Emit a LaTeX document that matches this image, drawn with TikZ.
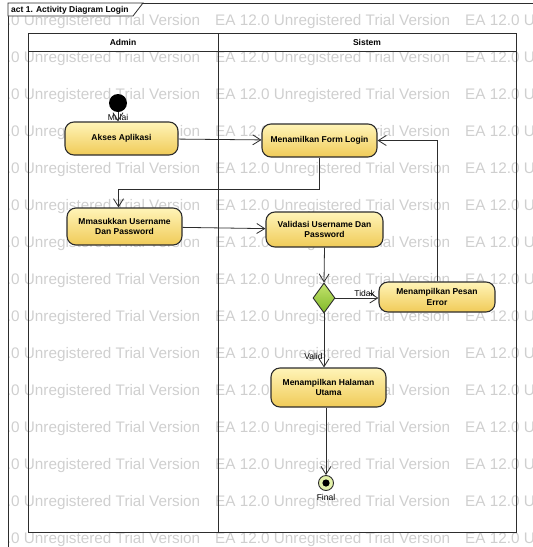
\documentclass[tikz,border=0pt]{standalone}
\usepackage{fontspec}
\setmainfont{Liberation Sans}
\usepackage{xcolor}
\usepackage{tikz}
\usetikzlibrary{arrows.meta}
\usetikzlibrary{calc}
\usetikzlibrary{shapes.geometric}
\definecolor{ealine}{RGB}{45,45,45}
\definecolor{actlight}{RGB}{255,244,184}
\definecolor{actdark}{RGB}{240,203,88}
\definecolor{declight}{RGB}{196,228,110}
\definecolor{decdark}{RGB}{128,184,40}
\definecolor{endgreen}{RGB}{228,242,170}
\colorlet{trialgray}{black!19}
\newcommand\trialtext{EA 12.0 Unregistered Trial Version}
\newcommand\eafont{\fontsize{8.5}{10.5}\selectfont}
\tikzstyle{flowhead}=[>/.tip={Straight Barb[length=8pt,width=10pt]}]
\tikzstyle{flow} =[line width=.8pt,draw=ealine,flowhead,->]
\tikzstyle{lane} =[line width=1pt,draw=ealine]
\tikzstyle{trial}=[inner sep=0pt,anchor=west,text=trialgray,font=\fontsize{15.3}{16}\selectfont]
\tikzstyle{header}=[font=\eafont\bfseries]
\tikzstyle{tag}=[inner sep=1pt,font=\eafont]
\tikzstyle{activity}=[draw=ealine,line width=1.1pt,rounded corners=9pt,top color=actlight,bottom color=actdark,align=center,inner sep=2pt,font=\eafont\bfseries]
\tikzstyle{decision}=[diamond,draw=ealine,line width=.9pt,minimum width=22pt,minimum height=30pt,inner sep=0pt,top color=declight,bottom color=decdark]
\tikzstyle{startnode}=[circle,fill=black,minimum size=18pt,inner sep=0pt]
\tikzstyle{endnode}=[circle,draw=ealine,line width=.9pt,fill=endgreen,minimum size=15pt,inner sep=0pt,path picture={\fill[black] (path picture bounding box.center) circle (3.6pt);}]
\begin{document}
\begin{tikzpicture}[x=1pt,y=-1pt]
	\useasboundingbox (0,0) rectangle (533,547);
	\begin{scope}
	  \clip (8,0) rectangle (533,547);
	  \foreach \r in {0,...,14}
	    \foreach \c [count=\k] in {-35,215,465}
	      \node[trial] (w\r-\k) at (\c,22+37*\r) {\trialtext};
	\end{scope}
	\draw[lane] (8,547) -- (8,3) -- (533,3);
	\filldraw[fill=white,draw=ealine,line width=.8pt] (8,3) -- (143,3) -- (133,16) -- (8,16) -- cycle;
	\node[header,anchor=west,inner sep=0pt] (title) at (11,10) {act 1. Activity Diagram Login};
	\draw[lane] (28,33) rectangle (516,532);
	\draw[lane] (28,51) -- (516,51);
	\draw[lane] (218,33) -- (218,532);
	\node[header] (admin) at (123,42) {Admin};
	\node[header] (sistem) at (367,42) {Sistem};
	\node[startnode] (start) at (118,103) {};
	\node[tag] (mulai) at (118,117) {Mulai};
	\node[activity,minimum width=113pt,minimum height=33pt] (akses) at (121.5,138.5) {Akses Aplikasi};
	\node[activity,minimum width=115pt,minimum height=33pt] (form) at (319.5,140.5) {Menamilkan Form Login};
	\node[activity,minimum width=115pt,minimum height=37pt] (mmasuk) at (124.5,226.5) {Mmasukkan Username\\Dan Password};
	\node[activity,minimum width=117pt,minimum height=35pt] (validasi) at (324.5,229.5) {Validasi Username Dan\\Password};
	\node[decision] (cek) at (324,298) {};
	\node[activity,minimum width=116pt,minimum height=30pt] (error) at (437,297) {Menampilkan Pesan\\Error};
	\node[activity,minimum width=115pt,minimum height=39pt] (halaman) at (328.5,387.5) {Menampilkan Halaman\\Utama};
	\node[endnode] (final) at (326,483) {};
	\node[tag] (finaltag) at (326,497) {Final};
	\draw[flow] (start) -- (start |- akses.north);
	\draw[flow] (akses) -- (form);
	\draw[flow] (form.south) -- ++(0,32) -| ([xshift=-6pt]mmasuk.north);
	\draw[flow] (mmasuk) -- (validasi);
	\draw[flow] (validasi.south) -- (cek.north);
	\draw[flow] (cek.east) -- node[tag,pos=.68,above] (tidak) {Tidak} (error.west |- cek.east);
	\draw[flow] (error.north) |- (form.east);
	\draw[flow] (cek.south) -- node[tag,pos=.8,left] (valid) {Valid} (cek.south |- halaman.north);
	\draw[flow] (halaman.south -| final) -- (final);
\end{tikzpicture}
\end{document}
